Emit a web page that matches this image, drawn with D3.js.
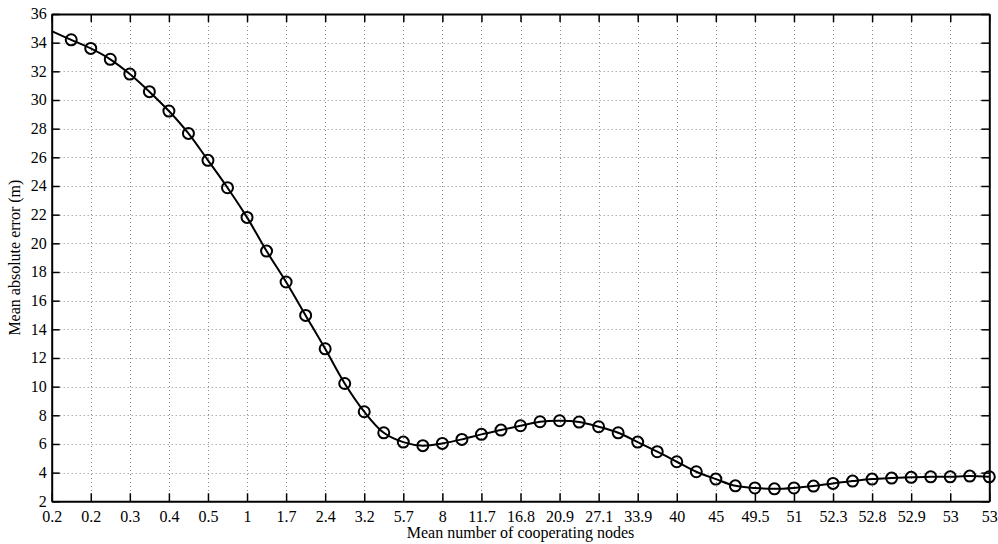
<!DOCTYPE html>
<html>
<head>
<meta charset="utf-8">
<script src="https://cdn.jsdelivr.net/npm/d3@7"></script>
<style>
  html, body { margin: 0; padding: 0; background: #fff; }
  svg { display: block; font-family: "Liberation Serif", "Times New Roman", serif; }
</style>
</head>
<body>
<svg id="chart" width="998" height="544"></svg>
<script>
// Tick labels along the x axis (one per integer position 0..24)
const xTickLabels = ["0.2","0.2","0.3","0.4","0.5","1","1.7","2.4","3.2","5.7","8","11.7","16.8","20.9","27.1","33.9","40","45","49.5","51","52.3","52.8","52.9","53","53"];
// Positions of the curve samples (half-tick steps); first sample has no marker
const xPositions = [0,0.5,1,1.5,2,2.5,3,3.5,4,4.5,5,5.5,6,6.5,7,7.5,8,8.5,9,9.5,10,10.5,11,11.5,12,12.5,13,13.5,14,14.5,15,15.5,16,16.5,17,17.5,18,18.5,19,19.5,20,20.5,21,21.5,22,22.5,23,23.5,24];
// Mean absolute error (m)
const errorValues = [34.8,34.2,33.6,32.84,31.81,30.58,29.23,27.67,25.79,23.88,21.81,19.46,17.3,14.97,12.64,10.22,8.25,6.78,6.13,5.88,6.04,6.32,6.67,6.97,7.27,7.55,7.62,7.53,7.2,6.78,6.13,5.46,4.76,4.06,3.55,3.08,2.93,2.87,2.93,3.06,3.25,3.41,3.55,3.62,3.67,3.71,3.71,3.76,3.71];
const yTicks = d3.range(2, 37, 2);

const svg = d3.select("#chart");
const m = { left: 51.7, right: 989.3, top: 14, bottom: 501.3 };
const x = d3.scaleLinear().domain([0, 24]).range([m.left, m.right]);
const y = d3.scaleLinear().domain([2, 36]).range([m.bottom, m.top]);
const xTickPos = d3.range(0, 25);

// Grid
const grid = svg.append("g").attr("stroke", "#888").attr("stroke-width", 1).attr("stroke-dasharray", "1,3");
grid.selectAll(".vg").data(xTickPos.slice(1, -1)).enter().append("line")
  .attr("x1", d => Math.round(x(d)) + 0.5).attr("x2", d => Math.round(x(d)) + 0.5)
  .attr("y1", m.top).attr("y2", m.bottom);
grid.selectAll(".hg").data(yTicks.slice(1, -1)).enter().append("line")
  .attr("y1", d => Math.round(y(d)) + 0.5).attr("y2", d => Math.round(y(d)) + 0.5)
  .attr("x1", m.left).attr("x2", m.right);

// Axes
const fs = "16px";
const xAxisB = d3.axisBottom(x).tickValues(xTickPos).tickFormat(i => xTickLabels[i]).tickSizeInner(-8).tickSizeOuter(0).tickPadding(9);
const xAxisT = d3.axisTop(x).tickValues(xTickPos).tickFormat("").tickSizeInner(-8).tickSizeOuter(0);
const yAxisL = d3.axisLeft(y).tickValues(yTicks).tickSizeInner(-8).tickSizeOuter(0).tickPadding(5);
const yAxisR = d3.axisRight(y).tickValues(yTicks).tickFormat("").tickSizeInner(-8).tickSizeOuter(0);

function styleAxis(g) {
  g.selectAll("path").attr("stroke", "#000").attr("stroke-width", 2);
  g.selectAll("line").attr("stroke", "#000").attr("stroke-width", 1.5);
  g.selectAll("text").attr("fill", "#000").style("font-size", fs).style("font-family", "Liberation Serif, serif");
}
svg.append("g").attr("transform", `translate(0,${m.bottom})`).call(xAxisB).call(styleAxis)
  .selectAll("text").attr("dy", "0.71em");
svg.append("g").attr("transform", `translate(0,${m.top})`).call(xAxisT).call(styleAxis);
svg.append("g").attr("transform", `translate(${m.left},0)`).call(yAxisL).call(styleAxis)
  .selectAll("text").attr("dy", "0.3em");
svg.append("g").attr("transform", `translate(${m.right},0)`).call(yAxisR).call(styleAxis);

// Line
const pts = xPositions.map((p, i) => ({ p, v: errorValues[i], i }));
const line = d3.line().x(d => x(d.p)).y(d => y(d.v)).curve(d3.curveCatmullRom.alpha(0.5));
svg.append("path").datum(pts).attr("d", line).attr("fill", "none").attr("stroke", "#000").attr("stroke-width", 2);

// Markers (all samples except the first)
svg.append("g").selectAll("circle").data(pts.filter(d => d.i > 0)).enter().append("circle")
  .attr("cx", d => x(d.p)).attr("cy", d => y(d.v)).attr("r", 5.5)
  .attr("fill", "none").attr("stroke", "#000").attr("stroke-width", 2);

// Axis titles
svg.append("text").attr("x", (m.left + m.right) / 2).attr("y", 538)
  .attr("text-anchor", "middle").style("font-size", fs).text("Mean number of cooperating nodes");
svg.append("text").attr("transform", `translate(20,${(m.top + m.bottom) / 2}) rotate(-90)`)
  .attr("text-anchor", "middle").style("font-size", fs).text("Mean absolute error (m)");
</script>
</body>
</html>
